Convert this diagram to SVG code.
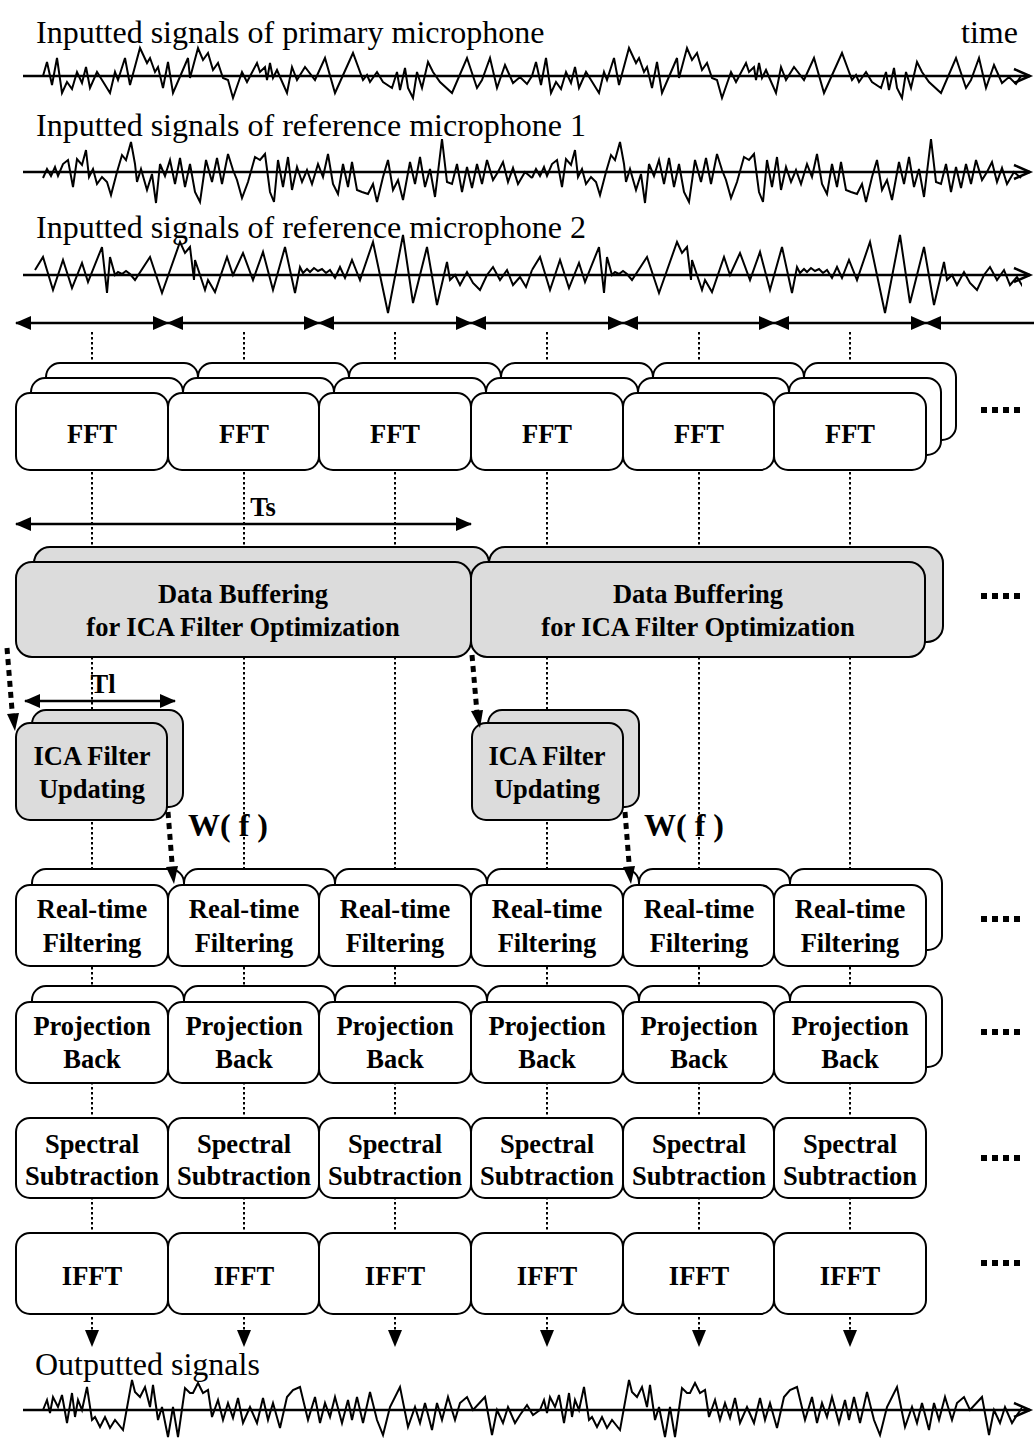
<svg xmlns="http://www.w3.org/2000/svg" xmlns:xlink="http://www.w3.org/1999/xlink" width="1034" height="1441" viewBox="0 0 1034 1441">
  <style>
    .lbl { font-family: "Liberation Serif", "Times New Roman", serif; font-size: 32px; fill: #000; }
    .bt { font-family: "Liberation Serif", "Times New Roman", serif; font-weight: bold; font-size: 26.5px; text-anchor: middle; fill: #000; }
    .box { fill: #fff; stroke: #000; stroke-width: 2; }
    .gbox { fill: #dcdcdc; stroke: #000; stroke-width: 2; }
    .dot { stroke: #000; stroke-width: 2; stroke-dasharray: 2.5 2.5; fill: none; }
    .wave { fill: none; stroke: #000; stroke-width: 2; stroke-linejoin: miter; }
    .axis { fill: none; stroke: #000; stroke-width: 2.5; }
    .span { stroke: #000; stroke-width: 2.5; fill: none; marker-start: url(#ah); marker-end: url(#ah); }
    .thick { stroke: #000; stroke-width: 5; stroke-dasharray: 6 5; fill: none; }
  </style>
  <defs>
    <marker id="ah" viewBox="0 0 16 14" refX="15" refY="7" markerWidth="16" markerHeight="14" orient="auto-start-reverse" markerUnits="userSpaceOnUse">
      <path d="M0,0 L16,7 L0,14 z" fill="#000"/>
    </marker>
    <clipPath id="wclip"><rect x="0" y="-200" width="1022" height="400"/></clipPath>
    <!-- one period of each signal trace, y relative to its baseline -->
    <polyline id="w1" points="43,0 47,-14 52,9 57,-18 62,17 67,6 72,13 77,-4 82,7 86,-9 90,12 97,-4 102,4 110,17 115,-4 118,4 125,-18 130,9 140,-28 147,-13 150,-18 155,-4 158,-9 163,12 168,-14 173,17 182,-4 188,-18 190,2 198,-28 203,-16 208,-23 213,-6 218,-13 223,2 228,4 233,22 242,-4 247,6 257,-13 260,-4 265,-9 267,4 270,-13 273,2 277,-6 280,1 287,17 292,-9 297,4 305,-9 315,4 325,-18 335,17 353,-23 363,4 367,-1 370,6 377,-4 383,6 392,12 397,-4 400,14 405,-8 408,12 413,22 417,-4 422,12 428,-14 433,-4 440,6 452,17 467,-18 477,12 482,4 490,-18 497,12 505,-11 513,7 520,1 527,8 532,0"/>
    <polyline id="w2" points="43,6 47,-3 51,4 55,-5 58,4 63,-8 68,-12 73,15 77,-13 82,-7 86,-22 89,5 93,-3 97,12 102,5 107,10 111,23 117,0 122,-17 126,-12 131,-30 135,-8 137,10 141,-3 147,18 152,2 156,31 160,-8 165,4 170,-12 175,12 180,-14 185,15 190,-8 195,20 200,30 206,-12 212,10 217,-14 222,12 228,-18 233,-2 237,8 242,26 248,10 255,-15 260,-12 265,-18 270,20 274,30 278,-12 283,15 288,-15 292,18 297,-5 302,10 307,-2 312,12 318,-8 323,5 328,-18 333,12 338,22 343,-8 348,15 352,-10 357,18 362,20 368,22 373,12 377,30 383,5 388,-12 393,18 398,8 403,28 410,-10 415,12 420,-15 425,15 430,-3 435,25 442,-33 447,10 452,12 457,-8 462,20 467,-5 472,16 477,-8 482,12 487,-12 493,8 498,0 503,-10 508,10 513,-4 518,12 525,0 532,6"/>
    <polyline id="w3" points="35,-5 43,-18 53,15 63,-15 72,13 82,-12 88,7 102,-28 107,18 110,-18 115,0 118,-3 122,-1 126,-4 130,-1 135,5 150,-18 162,18 180,-33 185,-22 190,-28 194,5 195,-15 200,0 205,15 208,5 215,17 227,-18 233,0 243,-22 253,5 263,-23 273,15 285,-28 295,18 300,-8 303,-2 307,-6 310,-3 314,-7 318,-4 322,-6 326,-2 330,-5 335,3 340,-8 345,3 352,-15 360,5 373,-33 388,38 403,-40 413,28 427,-28 437,30 447,-13 450,5 455,0 460,10 467,-3 473,8 480,15 487,0 493,-8 500,5 507,-5 513,10 520,2 526,12 532,-5"/>
    <polyline id="w4" points="43,0 47,-10 50,3 53,-13 58,-3 62,-15 67,13 72,-17 75,7 78,-10 82,0 87,-23 92,10 95,7 100,17 105,7 110,18 115,10 123,20 132,-30 135,-18 140,-13 145,-23 150,-3 153,-25 158,10 162,-3 168,27 173,-3 178,27 185,-22 190,-17 193,-17 198,-27 203,-17 208,-20 212,7 218,-10 223,10 228,-7 233,8 238,-12 243,13 250,-3 257,13 263,-12 268,10 273,-7 280,18 287,-13 293,-20 300,-23 308,10 315,-13 320,13 325,-7 330,7 335,-13 342,13 348,-10 352,10 357,-13 363,13 370,-18 377,10 383,25 390,-3 400,-23 408,17 415,-3 420,13 425,-7 432,20 437,-7 442,10 448,-13 455,10 460,-7 467,-13 473,0 485,-13 492,25 497,0 503,13 508,-3 515,13 520,5 527,-5 533,5 540,0"/>
  </defs>

  <rect x="0" y="0" width="1034" height="1441" fill="#fff"/>

  <!-- input and output signal traces -->
  <g id="signals">
    <text class="lbl" x="36" y="43">Inputted signals of primary microphone</text>
    <text class="lbl" x="961" y="43">time</text>
    <g transform="translate(0,76)">
      <line class="axis" x1="23" y1="0" x2="1030" y2="0"/>
      <polyline class="axis" points="1014,-7 1030,0 1014,7"/>
      <use xlink:href="#w1" class="wave"/>
      <use xlink:href="#w1" class="wave" x="489"/>
    </g>

    <text class="lbl" x="36" y="136">Inputted signals of reference microphone 1</text>
    <g transform="translate(0,172)">
      <line class="axis" x1="23" y1="0" x2="1030" y2="0"/>
      <polyline class="axis" points="1014,-7 1030,0 1014,7"/>
      <use xlink:href="#w2" class="wave"/>
      <use xlink:href="#w2" class="wave" x="489"/>
    </g>

    <text class="lbl" x="36" y="238">Inputted signals of reference microphone 2</text>
    <g transform="translate(0,275)">
      <line class="axis" x1="23" y1="0" x2="1030" y2="0"/>
      <polyline class="axis" points="1014,-7 1030,0 1014,7"/>
      <g clip-path="url(#wclip)">
        <use xlink:href="#w3" class="wave"/>
        <use xlink:href="#w3" class="wave" x="497"/>
      </g>
    </g>

    <text class="lbl" x="35" y="1375">Outputted signals</text>
    <g transform="translate(0,1410)">
      <line class="axis" x1="23" y1="0" x2="1030" y2="0"/>
      <polyline class="axis" points="1014,-7 1030,0 1014,7"/>
      <g clip-path="url(#wclip)">
        <use xlink:href="#w4" class="wave"/>
        <use xlink:href="#w4" class="wave" x="497"/>
      </g>
    </g>
  </g>

  <!-- frame segmentation and timing spans -->
  <g id="connectors">
    <line class="span" x1="16" y1="323" x2="168" y2="323"/>
    <line class="span" x1="168" y1="323" x2="319" y2="323"/>
    <line class="span" x1="319" y1="323" x2="471" y2="323"/>
    <line class="span" x1="471" y1="323" x2="623" y2="323"/>
    <line class="span" x1="623" y1="323" x2="774" y2="323"/>
    <line class="span" x1="774" y1="323" x2="926" y2="323"/>
    <line x1="1034" y1="323" x2="926" y2="323" stroke="#000" stroke-width="2.5" marker-end="url(#ah)"/>

    <!-- per-frame processing guides -->
    <line class="dot" x1="92" y1="332" x2="92" y2="1332"/>
    <line class="dot" x1="244" y1="332" x2="244" y2="1332"/>
    <line class="dot" x1="395" y1="332" x2="395" y2="1332"/>
    <line class="dot" x1="547" y1="332" x2="547" y2="1332"/>
    <line class="dot" x1="699" y1="332" x2="699" y2="1332"/>
    <line class="dot" x1="850" y1="332" x2="850" y2="1332"/>
    <g fill="#000">
      <path d="M85,1330 L99,1330 L92,1347 z"/>
      <path d="M237,1330 L251,1330 L244,1347 z"/>
      <path d="M388,1330 L402,1330 L395,1347 z"/>
      <path d="M540,1330 L554,1330 L547,1347 z"/>
      <path d="M692,1330 L706,1330 L699,1347 z"/>
      <path d="M843,1330 L857,1330 L850,1347 z"/>
    </g>

    <line class="span" x1="16" y1="524" x2="471" y2="524"/>
    <text class="bt" x="263" y="516">Ts</text>
    <line class="span" x1="25" y1="701" x2="175" y2="701"/>
    <text class="bt" x="103" y="693">Tl</text>
  </g>

  <!-- FFT frames (three stacked channels) -->
  <g id="fft">
    <g transform="translate(30,-30)">
      <rect class="box" x="16" y="393" width="152" height="77" rx="14"/>
      <rect class="box" x="168" y="393" width="151" height="77" rx="14"/>
      <rect class="box" x="319" y="393" width="152" height="77" rx="14"/>
      <rect class="box" x="471" y="393" width="152" height="77" rx="14"/>
      <rect class="box" x="623" y="393" width="151" height="77" rx="14"/>
      <rect class="box" x="774" y="393" width="152" height="77" rx="14"/>
    </g>
    <g transform="translate(15,-15)">
      <rect class="box" x="16" y="393" width="152" height="77" rx="14"/>
      <rect class="box" x="168" y="393" width="151" height="77" rx="14"/>
      <rect class="box" x="319" y="393" width="152" height="77" rx="14"/>
      <rect class="box" x="471" y="393" width="152" height="77" rx="14"/>
      <rect class="box" x="623" y="393" width="151" height="77" rx="14"/>
      <rect class="box" x="774" y="393" width="152" height="77" rx="14"/>
    </g>
    <rect class="box" x="16" y="393" width="152" height="77" rx="14"/>
    <rect class="box" x="168" y="393" width="151" height="77" rx="14"/>
    <rect class="box" x="319" y="393" width="152" height="77" rx="14"/>
    <rect class="box" x="471" y="393" width="152" height="77" rx="14"/>
    <rect class="box" x="623" y="393" width="151" height="77" rx="14"/>
    <rect class="box" x="774" y="393" width="152" height="77" rx="14"/>
    <text class="bt" x="92" y="443">FFT</text>
    <text class="bt" x="244" y="443">FFT</text>
    <text class="bt" x="395" y="443">FFT</text>
    <text class="bt" x="547" y="443">FFT</text>
    <text class="bt" x="699" y="443">FFT</text>
    <text class="bt" x="850" y="443">FFT</text>
  </g>

  <!-- data buffering blocks -->
  <g id="buffering">
    <g transform="translate(18,-15)">
      <rect class="gbox" x="16" y="562" width="455" height="95" rx="16"/>
      <rect class="gbox" x="471" y="562" width="454" height="95" rx="16"/>
    </g>
    <rect class="gbox" x="16" y="562" width="455" height="95" rx="16"/>
    <rect class="gbox" x="471" y="562" width="454" height="95" rx="16"/>
    <text class="bt" x="243" y="603">Data Buffering</text>
    <text class="bt" x="243" y="636">for ICA Filter Optimization</text>
    <text class="bt" x="698" y="603">Data Buffering</text>
    <text class="bt" x="698" y="636">for ICA Filter Optimization</text>
  </g>

  <!-- ICA filter updating blocks -->
  <g id="ica-1">
    <rect class="gbox" x="32" y="710" width="151" height="97" rx="14"/>
    <rect class="gbox" x="16" y="723" width="151" height="97" rx="14"/>
    <text class="bt" x="92" y="765">ICA Filter</text>
    <text class="bt" x="92" y="798">Updating</text>
  </g>
  <g id="ica-2">
    <rect class="gbox" x="488" y="710" width="151" height="97" rx="14"/>
    <rect class="gbox" x="472" y="723" width="151" height="97" rx="14"/>
    <text class="bt" x="547" y="765">ICA Filter</text>
    <text class="bt" x="547" y="798">Updating</text>
  </g>

  <!-- real-time filtering frames -->
  <g id="filtering">
    <g transform="translate(16,-16)">
      <rect class="box" x="16" y="885" width="152" height="81" rx="14"/>
      <rect class="box" x="168" y="885" width="151" height="81" rx="14"/>
      <rect class="box" x="319" y="885" width="152" height="81" rx="14"/>
      <rect class="box" x="471" y="885" width="152" height="81" rx="14"/>
      <rect class="box" x="623" y="885" width="151" height="81" rx="14"/>
      <rect class="box" x="774" y="885" width="152" height="81" rx="14"/>
    </g>
    <rect class="box" x="16" y="885" width="152" height="81" rx="14"/>
    <rect class="box" x="168" y="885" width="151" height="81" rx="14"/>
    <rect class="box" x="319" y="885" width="152" height="81" rx="14"/>
    <rect class="box" x="471" y="885" width="152" height="81" rx="14"/>
    <rect class="box" x="623" y="885" width="151" height="81" rx="14"/>
    <rect class="box" x="774" y="885" width="152" height="81" rx="14"/>
    <text class="bt" x="92" y="918">Real-time</text><text class="bt" x="92" y="952">Filtering</text>
    <text class="bt" x="244" y="918">Real-time</text><text class="bt" x="244" y="952">Filtering</text>
    <text class="bt" x="395" y="918">Real-time</text><text class="bt" x="395" y="952">Filtering</text>
    <text class="bt" x="547" y="918">Real-time</text><text class="bt" x="547" y="952">Filtering</text>
    <text class="bt" x="699" y="918">Real-time</text><text class="bt" x="699" y="952">Filtering</text>
    <text class="bt" x="850" y="918">Real-time</text><text class="bt" x="850" y="952">Filtering</text>
  </g>

  <!-- projection back frames -->
  <g id="projection">
    <g transform="translate(16,-16)">
      <rect class="box" x="16" y="1002" width="152" height="81" rx="14"/>
      <rect class="box" x="168" y="1002" width="151" height="81" rx="14"/>
      <rect class="box" x="319" y="1002" width="152" height="81" rx="14"/>
      <rect class="box" x="471" y="1002" width="152" height="81" rx="14"/>
      <rect class="box" x="623" y="1002" width="151" height="81" rx="14"/>
      <rect class="box" x="774" y="1002" width="152" height="81" rx="14"/>
    </g>
    <rect class="box" x="16" y="1002" width="152" height="81" rx="14"/>
    <rect class="box" x="168" y="1002" width="151" height="81" rx="14"/>
    <rect class="box" x="319" y="1002" width="152" height="81" rx="14"/>
    <rect class="box" x="471" y="1002" width="152" height="81" rx="14"/>
    <rect class="box" x="623" y="1002" width="151" height="81" rx="14"/>
    <rect class="box" x="774" y="1002" width="152" height="81" rx="14"/>
    <text class="bt" x="92" y="1035">Projection</text><text class="bt" x="92" y="1068">Back</text>
    <text class="bt" x="244" y="1035">Projection</text><text class="bt" x="244" y="1068">Back</text>
    <text class="bt" x="395" y="1035">Projection</text><text class="bt" x="395" y="1068">Back</text>
    <text class="bt" x="547" y="1035">Projection</text><text class="bt" x="547" y="1068">Back</text>
    <text class="bt" x="699" y="1035">Projection</text><text class="bt" x="699" y="1068">Back</text>
    <text class="bt" x="850" y="1035">Projection</text><text class="bt" x="850" y="1068">Back</text>
  </g>

  <!-- spectral subtraction frames -->
  <g id="subtraction">
    <rect class="box" x="16" y="1118" width="152" height="80" rx="14"/>
    <rect class="box" x="168" y="1118" width="151" height="80" rx="14"/>
    <rect class="box" x="319" y="1118" width="152" height="80" rx="14"/>
    <rect class="box" x="471" y="1118" width="152" height="80" rx="14"/>
    <rect class="box" x="623" y="1118" width="151" height="80" rx="14"/>
    <rect class="box" x="774" y="1118" width="152" height="80" rx="14"/>
    <text class="bt" x="92" y="1153">Spectral</text><text class="bt" x="92" y="1185">Subtraction</text>
    <text class="bt" x="244" y="1153">Spectral</text><text class="bt" x="244" y="1185">Subtraction</text>
    <text class="bt" x="395" y="1153">Spectral</text><text class="bt" x="395" y="1185">Subtraction</text>
    <text class="bt" x="547" y="1153">Spectral</text><text class="bt" x="547" y="1185">Subtraction</text>
    <text class="bt" x="699" y="1153">Spectral</text><text class="bt" x="699" y="1185">Subtraction</text>
    <text class="bt" x="850" y="1153">Spectral</text><text class="bt" x="850" y="1185">Subtraction</text>
  </g>

  <!-- IFFT frames -->
  <g id="ifft">
    <rect class="box" x="16" y="1233" width="152" height="81" rx="14"/>
    <rect class="box" x="168" y="1233" width="151" height="81" rx="14"/>
    <rect class="box" x="319" y="1233" width="152" height="81" rx="14"/>
    <rect class="box" x="471" y="1233" width="152" height="81" rx="14"/>
    <rect class="box" x="623" y="1233" width="151" height="81" rx="14"/>
    <rect class="box" x="774" y="1233" width="152" height="81" rx="14"/>
    <text class="bt" x="92" y="1285">IFFT</text>
    <text class="bt" x="244" y="1285">IFFT</text>
    <text class="bt" x="395" y="1285">IFFT</text>
    <text class="bt" x="547" y="1285">IFFT</text>
    <text class="bt" x="699" y="1285">IFFT</text>
    <text class="bt" x="850" y="1285">IFFT</text>
  </g>

  <!-- filter hand-over arrows, drawn on top of the frames -->
  <g id="updates">
    <line class="thick" x1="7" y1="648" x2="12.5" y2="716"/>
    <path d="M7,714 L19,713 L15,731 z" fill="#000"/>
    <line class="thick" x1="472" y1="655" x2="477" y2="713"/>
    <path d="M471,711 L483,710 L480,728 z" fill="#000"/>
    <line class="thick" x1="168" y1="812" x2="172.5" y2="869"/>
    <path d="M166,867 L178,866 L174,884 z" fill="#000"/>
    <line class="thick" x1="625" y1="812" x2="629.5" y2="869"/>
    <path d="M623,867 L635,866 L631,884 z" fill="#000"/>
    <text class="bt" x="188" y="836" style="font-size:32px;text-anchor:start">W( f )</text>
    <text class="bt" x="644" y="836" style="font-size:32px;text-anchor:start">W( f )</text>
  </g>

  <!-- continuation marks -->
  <g id="continuation" fill="#000">
    <g transform="translate(0,407)"><rect x="981" width="6" height="6"/><rect x="992" width="6" height="6"/><rect x="1003" width="6" height="6"/><rect x="1014" width="6" height="6"/></g>
    <g transform="translate(0,593)"><rect x="981" width="6" height="6"/><rect x="992" width="6" height="6"/><rect x="1003" width="6" height="6"/><rect x="1014" width="6" height="6"/></g>
    <g transform="translate(0,916)"><rect x="981" width="6" height="6"/><rect x="992" width="6" height="6"/><rect x="1003" width="6" height="6"/><rect x="1014" width="6" height="6"/></g>
    <g transform="translate(0,1029)"><rect x="981" width="6" height="6"/><rect x="992" width="6" height="6"/><rect x="1003" width="6" height="6"/><rect x="1014" width="6" height="6"/></g>
    <g transform="translate(0,1155)"><rect x="981" width="6" height="6"/><rect x="992" width="6" height="6"/><rect x="1003" width="6" height="6"/><rect x="1014" width="6" height="6"/></g>
    <g transform="translate(0,1260)"><rect x="981" width="6" height="6"/><rect x="992" width="6" height="6"/><rect x="1003" width="6" height="6"/><rect x="1014" width="6" height="6"/></g>
  </g>
</svg>
